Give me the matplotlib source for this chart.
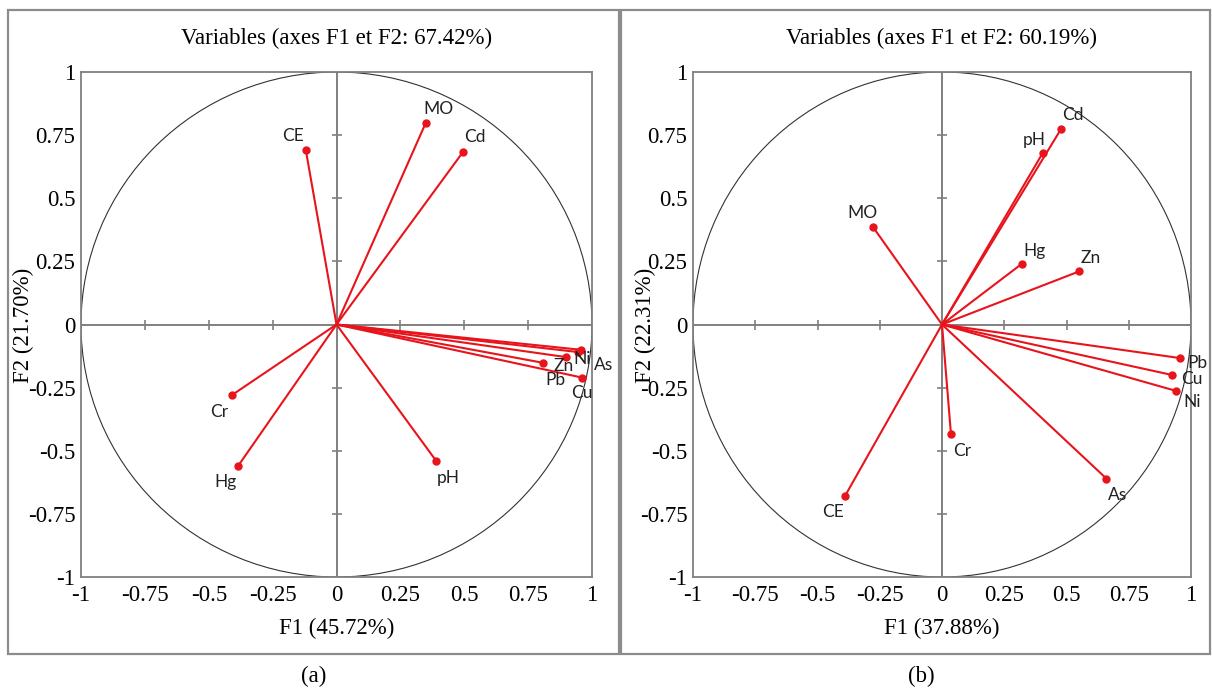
import numpy as np
import matplotlib
matplotlib.use("Agg")
import matplotlib.pyplot as plt
from matplotlib.patches import Circle, Rectangle

# ---------------- data ----------------
vars_a = ["MO", "Cd", "CE", "Cr", "Hg", "pH", "Ni", "As", "Zn", "Pb", "Cu"]
f1_a = [0.35, 0.495, -0.12, -0.41, -0.385, 0.39, 0.945, 0.955, 0.898, 0.81, 0.96]
f2_a = [0.80, 0.683, 0.69, -0.28, -0.56, -0.54, -0.109, -0.10, -0.129, -0.152, -0.21]

vars_b = ["Cd", "pH", "MO", "Hg", "Zn", "Pb", "Cu", "Ni", "Cr", "CE", "As"]
f1_b = [0.478, 0.405, -0.277, 0.32, 0.55, 0.956, 0.924, 0.94, 0.036, -0.39, 0.66]
f2_b = [0.774, 0.68, 0.386, 0.24, 0.21, -0.133, -0.20, -0.263, -0.434, -0.68, -0.61]

titles = ["Variables (axes F1 et F2: 67.42%)", "Variables (axes F1 et F2: 60.19%)"]
xlabels = ["F1 (45.72%)", "F1 (37.88%)"]
ylabels = ["F2 (21.70%)", "F2 (22.31%)"]
panel_tags = ["(a)", "(b)"]
ticks = [-1, -0.75, -0.5, -0.25, 0, 0.25, 0.5, 0.75, 1]
tick_labels = ["-1", "-0.75", "-0.5", "-0.25", "0", "0.25", "0.5", "0.75", "1"]

# label offsets in pixels (style only)
off_a = {"MO": (13, 14), "Cd": (12, 15), "CE": (-13, 14), "Cr": (-13, -17),
         "Hg": (-13, -16), "pH": (12, -17), "Ni": (4, -7), "As": (23, -15),
         "Zn": (-2, -9), "Pb": (12, -17), "Cu": (0, -15)}
off_b = {"Cd": (12, 14), "pH": (-9, 13), "MO": (-11, 14), "Hg": (13, 13),
         "Zn": (12, 13), "Pb": (17, -5), "Cu": (20, -4), "Ni": (16, -11),
         "Cr": (11, -17), "CE": (-12, -16), "As": (11, -16)}

W, H = 1212, 691
fig = plt.figure(figsize=(W / 100, H / 100), dpi=100)

SERIF = ["Liberation Serif", "DejaVu Serif"]
SANS = ["Lato", "DejaVu Sans"]
RED = "#e8141c"
GRAY = "#808080"

# outer panel borders
for (x0, x1) in [(8, 619), (621, 1210)]:
    fig.patches.append(Rectangle((x0 / W, 1 - 654 / H), (x1 - x0) / W, (654 - 10) / H,
                                 transform=fig.transFigure, fill=False,
                                 edgecolor="#8c8c8c", linewidth=1.6, zorder=0))

axes_px = [(81, 592), (693, 1191)]
ylab_x = [23, 645]
datasets = [(vars_a, f1_a, f2_a, off_a), (vars_b, f1_b, f2_b, off_b)]

for i, ((xl, xr), (names, xs, ys, offs)) in enumerate(zip(axes_px, datasets)):
    top, bot = 72, 577
    ax = fig.add_axes([xl / W, 1 - bot / H, (xr - xl) / W, (bot - top) / H])
    ax.set_xlim(-1, 1)
    ax.set_ylim(-1, 1)
    ax.set_xticks(ticks)
    ax.set_yticks(ticks)
    ax.set_xticklabels(tick_labels, fontfamily=SERIF, fontsize=16.5)
    ax.set_yticklabels(tick_labels, fontfamily=SERIF, fontsize=16.5)
    ax.tick_params(length=0, pad=4)
    ax.tick_params(axis="x", pad=6)
    for s in ax.spines.values():
        s.set_color(GRAY)
        s.set_linewidth(1.3)

    # zero lines with cross ticks
    ax.axhline(0, color=GRAY, lw=1.4, zorder=1)
    ax.axvline(0, color=GRAY, lw=1.4, zorder=1)
    inner = [t for t in ticks if t not in (-1, 0, 1)]
    ax.plot(inner, [0] * len(inner), ls="none", marker="|", ms=7, mew=1.2, color=GRAY, zorder=1)
    ax.plot([0] * len(inner), inner, ls="none", marker="_", ms=7, mew=1.2, color=GRAY, zorder=1)

    ax.add_patch(Circle((0, 0), 1, fill=False, edgecolor="#333333", lw=0.8, zorder=1))

    for n, x, y in zip(names, xs, ys):
        ax.plot([0, x], [0, y], color=RED, lw=1.5, zorder=3, solid_capstyle="round")
        ax.plot([x], [y], "o", color=RED, ms=5, zorder=4)
        dx, dy = offs[n]
        ax.annotate(n, (x, y), xytext=(dx, dy), textcoords="offset pixels",
                    ha="center", va="center", fontsize=12.5, fontfamily=SANS,
                    color="#222222", zorder=5)

    cx = (xl + xr) / 2
    fig.text(cx / W, 1 - 38 / H, titles[i], ha="center", va="center",
             fontfamily=SERIF, fontsize=16.5)
    fig.text(cx / W, 1 - 628 / H, xlabels[i], ha="center", va="center",
             fontfamily=SERIF, fontsize=16.5)
    fig.text(ylab_x[i] / W, 1 - 325 / H, ylabels[i], ha="center", va="center",
             rotation=90, fontfamily=SERIF, fontsize=16.5)

fig.text(314 / W, 1 - 676 / H, panel_tags[0], ha="center", va="center",
         fontfamily=SERIF, fontsize=16.5)
fig.text(921 / W, 1 - 676 / H, panel_tags[1], ha="center", va="center",
         fontfamily=SERIF, fontsize=16.5)

fig.savefig("out.png", dpi=100)
